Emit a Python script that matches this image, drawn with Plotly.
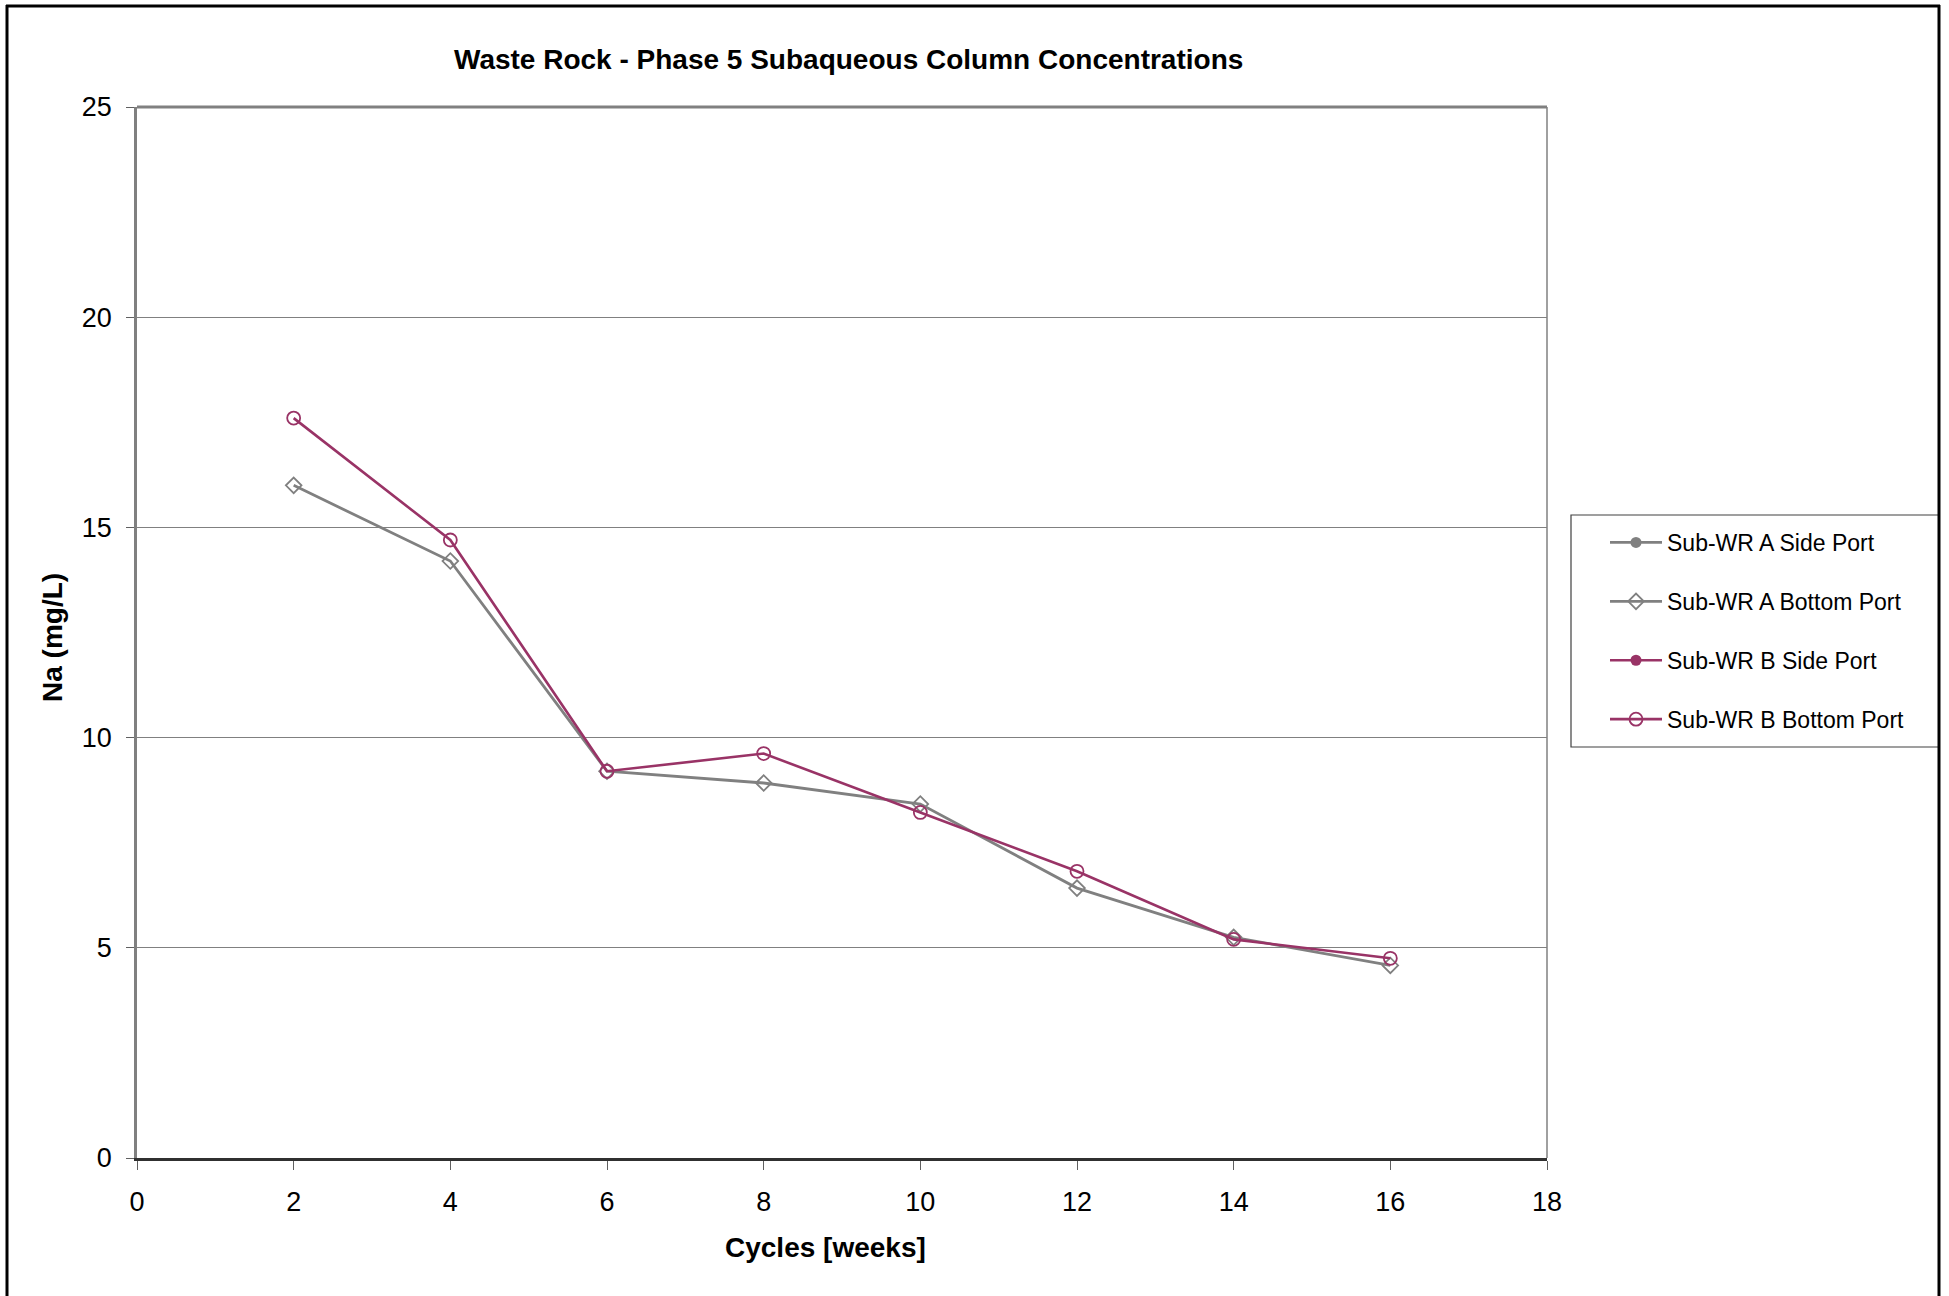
import plotly.graph_objects as go

cycles = [2, 4, 6, 8, 10, 12, 14, 16]
a_side = [None]
a_bottom = [16.0, 14.2, 9.2, 8.92, 8.42, 6.42, 5.25, 4.58]
b_side = [None]
b_bottom = [17.6, 14.7, 9.2, 9.62, 8.22, 6.82, 5.2, 4.75]

GRAY = "#808080"
PLUM = "#993366"
FONT = "Liberation Sans, Arial, sans-serif"

W, H = 1949, 1296
OFF = 0  # body margin removed via post_script
PL, PT, PR, PB = 137, 107, 1547, 1158  # plot area in page pixels
L, T = PL - OFF, PT - OFF
pw, ph = PR - PL, PB - PT
R, B = W - L - pw, H - T - ph

def px(x):
    return (x - PL) / pw

def py(y):
    return (PB - y) / ph

fig = go.Figure()
fig.add_trace(go.Scatter(x=[None], y=a_side, name="Sub-WR A Side Port", mode="lines+markers",
                         line=dict(color=GRAY, width=2.8), marker=dict(symbol="circle", size=11, color=GRAY),
                         legendgroup="1"))
fig.add_trace(go.Scatter(x=cycles, y=a_bottom, name="Sub-WR A Bottom Port", mode="lines+markers",
                         line=dict(color=GRAY, width=2.8),
                         marker=dict(symbol="diamond-open", size=12, color=GRAY, line=dict(width=1.8)),
                         legendgroup="2"))
fig.add_trace(go.Scatter(x=[None], y=b_side, name="Sub-WR B Side Port", mode="lines+markers",
                         line=dict(color=PLUM, width=2.6), marker=dict(symbol="circle", size=11, color=PLUM),
                         legendgroup="3"))
fig.add_trace(go.Scatter(x=cycles, y=b_bottom, name="Sub-WR B Bottom Port", mode="lines+markers",
                         line=dict(color=PLUM, width=2.6),
                         marker=dict(symbol="circle-open", size=13, color=PLUM, line=dict(width=1.8)),
                         legendgroup="4"))

shapes = [
    # legend box
    dict(type="rect", xref="paper", yref="paper", x0=px(1571), x1=px(1939), y0=py(515), y1=py(747),
         line=dict(color="#404040", width=1.2), fillcolor="rgba(0,0,0,0)"),
    # outer frame (left, top, right)
    dict(type="line", xref="paper", yref="paper", x0=px(7), x1=px(7), y0=py(5), y1=py(1400),
         line=dict(color="black", width=3)),
    dict(type="line", xref="paper", yref="paper", x0=px(6), x1=px(1940), y0=py(6), y1=py(6),
         line=dict(color="black", width=3)),
    dict(type="line", xref="paper", yref="paper", x0=px(1939), x1=px(1939), y0=py(5), y1=py(1400),
         line=dict(color="black", width=3)),
    # plot box top & right
    dict(type="line", xref="paper", yref="paper", x0=0, x1=1, y0=1, y1=1, line=dict(color=GRAY, width=3)),
    dict(type="line", xref="paper", yref="paper", x0=1, x1=1, y0=0, y1=1, line=dict(color=GRAY, width=1.5)),
]

fig.update_layout(
    width=W, height=H,
    margin=dict(l=L, r=R, t=T, b=B),
    paper_bgcolor="white", plot_bgcolor="white",
    font=dict(family=FONT, color="black"),
    showlegend=True,
    legend=dict(x=px(1605), y=py(521), xanchor="left", yanchor="top",
                font=dict(size=23, family=FONT), tracegroupgap=26, itemwidth=52,
                bgcolor="rgba(0,0,0,0)", borderwidth=0),
    shapes=shapes,
    annotations=[
        dict(text="<b>Waste Rock - Phase 5 Subaqueous Column Concentrations</b>", xref="paper", yref="paper",
             x=px(848), y=py(60), xanchor="center", yanchor="middle", showarrow=False,
             font=dict(size=28, family=FONT)),
        dict(text="<b>Cycles [weeks]</b>", xref="paper", yref="paper",
             x=px(825), y=py(1247), xanchor="center", yanchor="middle", showarrow=False,
             font=dict(size=28, family=FONT)),
        dict(text="<b>Na (mg/L)</b>", xref="paper", yref="paper", textangle=-90,
             x=px(53), y=py(638), xanchor="center", yanchor="middle", showarrow=False,
             font=dict(size=28, family=FONT)),
    ],
)
fig.update_xaxes(range=[0, 18], tickmode="linear", tick0=0, dtick=2, showgrid=False,
                 showline=True, linecolor="#303030", linewidth=2.5,
                 ticks="outside", ticklen=9, tickcolor="#606060", tickwidth=1,
                 ticklabelstandoff=9,
                 tickfont=dict(size=27, family=FONT), zeroline=False)
fig.update_yaxes(range=[0, 25], tickmode="linear", tick0=0, dtick=5, showgrid=True,
                 gridcolor=GRAY, gridwidth=1.2,
                 showline=True, linecolor=GRAY, linewidth=2.5,
                 ticks="outside", ticklen=8, tickcolor="#606060", tickwidth=1,
                 ticklabelstandoff=9,
                 tickfont=dict(size=27, family=FONT), zeroline=False)

fig.write_html("out.html", config={"displayModeBar": False},
               post_script="document.body.style.margin='0';document.body.style.overflow='hidden';")
